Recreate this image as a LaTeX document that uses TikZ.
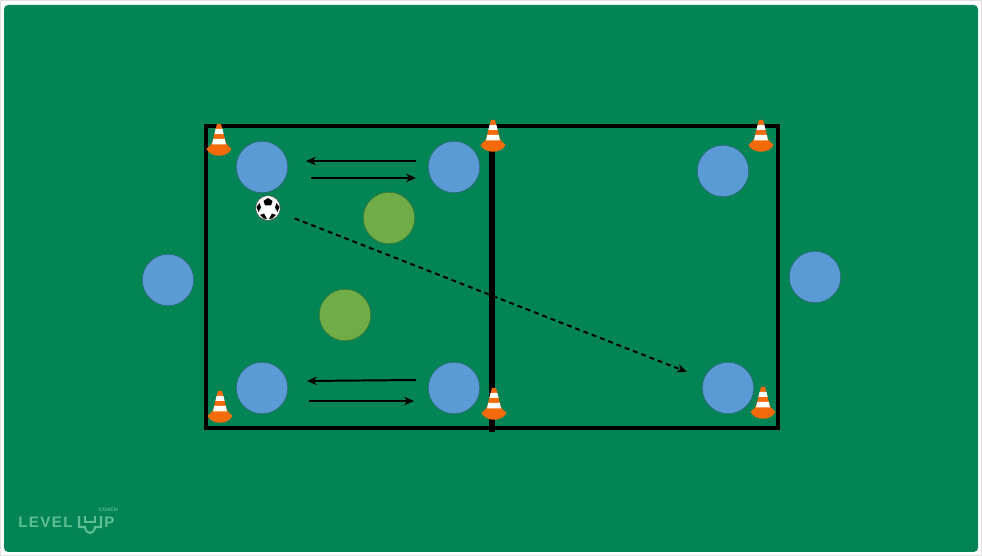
\documentclass[tikz,border=0pt]{standalone}
\usepackage{fontspec}
\setmainfont{Liberation Sans}
\usetikzlibrary{
    arrows.meta,
    calc
}
\definecolor{pitch}{HTML}{038454}
\definecolor{playerblue}{HTML}{5B9BD5}
\definecolor{playergreen}{HTML}{70AD47}
\definecolor{coneorange}{HTML}{F56A0A}
\definecolor{logogreen}{HTML}{5FBF94}
\tikzset{
    player/.style={circle,fill=playerblue,draw=black!35!playerblue!70!pitch,line width=0.6pt,minimum size=1.29cm,inner sep=0pt},
    defender/.style={player,fill=playergreen,draw=black!30!playergreen!70!pitch},
    pass/.style={line width=1.4pt,-{Stealth[length=7pt,width=6pt]}},
    logotext/.style={text=logogreen,inner sep=0pt}
}
\newcommand{\conepic}[1]{
\begin{scope}[shift={(#1)}]
\fill[coneorange] (-12.5,9) .. controls (-10,6) and (-8,6) .. (-7,3) -- (-2,-16) -- (2,-16) -- (7,3) .. controls (8,6) and (10,6) .. (12.5,9) .. controls (8,18) and (-8,18) .. (-12.5,9) -- cycle;
\fill[white] (-3.4,-11) -- (3.4,-11) -- (4.6,-6) -- (-4.6,-6) -- cycle;
\fill[white] (-5.7,-1) -- (5.7,-1) -- (7,4.5) -- (-7,4.5) -- cycle;
\end{scope}
}
\begin{document}
\begin{tikzpicture}[x=0.025cm,y=-0.025cm]
\useasboundingbox (0,0) rectangle (982,556);

% Background
\fill[black!12] (0,0) rectangle (982,556);
\fill[white] (1,1) rectangle (981,555);
\fill[pitch,rounded corners=3pt] (4,5) rectangle (978,552);

% Field
\draw[line width=2.2pt,line join=miter] (206,126) rectangle (778,428);
\draw[line width=4.2pt] (492,140) -- (492,432);

% Cones
\conepic{219,140}
\conepic{493,136}
\conepic{761,136}
\conepic{220,407}
\conepic{494,404}
\conepic{763,403}

% Players
\node[player] (topleft) at (262,167) {};
\node[player] (topmid) at (454,167) {};
\node[player] (topright) at (723,171) {};
\node[player] (botleft) at (262,388) {};
\node[player] (botmid) at (454,388) {};
\node[player] (botright) at (728,388) {};
\node[player] (wideleft) at (168,280) {};
\node[player] (wideright) at (815,277) {};

% Middle players
\node[defender] (midup) at (389,218) {};
\node[defender] (middown) at (345,315) {};

% Ball
\node[circle,fill=white,draw=black!70,line width=0.4pt,minimum size=0.62cm,inner sep=0pt] (ball) at (268,208) {};
\fill[black] (268,198) -- (272.5,201) -- (271,205.5) -- (265,205.5) -- (263.5,201) -- cycle;
\fill[black] (256.5,207) -- (259.5,203) -- (261,207.5) -- (258.5,212) -- cycle;
\fill[black] (279.5,207) -- (276.5,203) -- (275,207.5) -- (277.5,212) -- cycle;
\fill[black] (263.5,218.5) -- (260,215) -- (264,213.5) -- (267,219) -- cycle;
\fill[black] (272.5,218.5) -- (276,215) -- (272,213.5) -- (269,219) -- cycle;

% Passes
\coordinate (a1) at (416,161);
\coordinate (a2) at (306,161);
\coordinate (b1) at (311,178);
\coordinate (b2) at (416,178);
\coordinate (c1) at (416,380);
\coordinate (c2) at (307,381);
\coordinate (d1) at (309,401);
\coordinate (d2) at (414,401);
\draw[pass] (a1) -- (a2);
\draw[pass] (b1) -- (b2);
\draw[pass] (c1) -- (c2);
\draw[pass] (d1) -- (d2);

% Long pass
\draw[pass,dash pattern=on 3.5pt off 2.8pt,shorten <=0.4cm,shorten >=0.45cm] (ball) -- (botright);

% Logo
\node[logotext,anchor=west,font=\bfseries\fontsize{10.8}{12}\selectfont\addfontfeature{LetterSpace=9}] (level) at (18,522) {LEVEL};
\node[logotext,anchor=west,font=\bfseries\fontsize{10.8}{12}\selectfont] (plogo) at (104,522) {P};
\node[logotext,anchor=east,font=\bfseries\fontsize{3.6}{4}\selectfont] (coach) at (118,510) {COACH};
\draw[logogreen,line width=1.5pt] (79,516) -- (79,527) -- (85,527) .. controls (86,535) and (94,535) .. (95,527) -- (101,527) -- (101,516);
\draw[logogreen,line width=1.2pt] (85,516) -- (85,522) -- (95,522) -- (95,516);
\end{tikzpicture}
\end{document}
